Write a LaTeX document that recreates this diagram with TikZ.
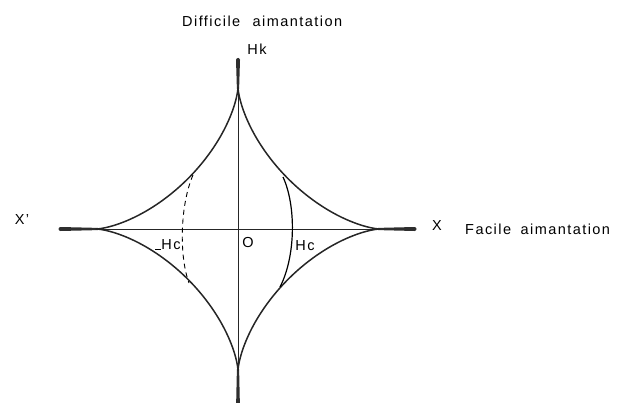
\documentclass[tikz,border=0pt]{standalone}
\usepackage{fontspec}
\setmainfont{Liberation Sans}[LetterSpace=10]
\begin{document}
\begin{tikzpicture}[x=1pt,y=-1pt,
  lbl/.style={inner sep=0pt,font=\fontsize{14.5}{16}\selectfont},
  axis/.style={line width=0.8pt,black!85},
  curve/.style={line width=1.5pt,black!85},
  tailfill/.style={fill=black!82}]
\useasboundingbox (0,0) rectangle (620,403);
\coordinate (O) at (238,229);
\coordinate (L) at (59,229);
\coordinate (R) at (416,229);
\coordinate (T) at (238,58);
\coordinate (B) at (238,410);
% axes
\draw[axis] (L) -- (R);
\draw[axis] (T) -- (B);
% cusp tails (tapered)
\fill[tailfill] (98,227.9) -- (60.5,227) -- (60.5,231) -- (98,230.1) -- cycle;
\fill[tailfill] (60.5,229) circle[radius=2];
\fill[tailfill] (378,227.9) -- (414.5,227) -- (414.5,231) -- (378,230.1) -- cycle;
\fill[tailfill] (414.5,229) circle[radius=2];
\fill[tailfill] (236.9,89) -- (236,60) -- (240,60) -- (239.1,89) -- cycle;
\fill[tailfill] (238,60) circle[radius=2];
\fill[tailfill] (236.9,369) -- (236,410) -- (240,410) -- (239.1,369) -- cycle;
% astroid
\draw[curve] plot[domain=0:360,samples=240,smooth]
  ({238+142*cos(\x)*cos(\x)*cos(\x)},{229+142*sin(\x)*sin(\x)*sin(\x)});
% hysteresis arcs
\coordinate (dl1) at (193,175);
\coordinate (dl2) at (189,283);
\coordinate (dr1) at (283,177);
\coordinate (dr2) at (280,287);
\draw[line width=0.9pt,dash pattern=on 5pt off 4pt] (dl1) .. controls (180,205) and (179,256) .. (dl2);
\draw[line width=1.2pt] (dr1) .. controls (296,205) and (296,256) .. (dr2);
% labels
\node[lbl,anchor=west] (diff) at (182,21) {Difficile\hspace{7pt} aimantation};
\node[lbl] (hk) at (257,49) {Hk};
\node[lbl] (xp) at (22,220) {X’};
\node[lbl] (x) at (437,226) {X};
\node[lbl,anchor=west] (fac) at (465,229) {Facile\hspace{4pt} aimantation};
\node[lbl] (o) at (248,243) {O};
\node[lbl] (hcl) at (168,245) {\rule[-1pt]{6pt}{1pt}Hc};
\node[lbl] (hcr) at (305,246) {Hc};
\end{tikzpicture}
\end{document}
